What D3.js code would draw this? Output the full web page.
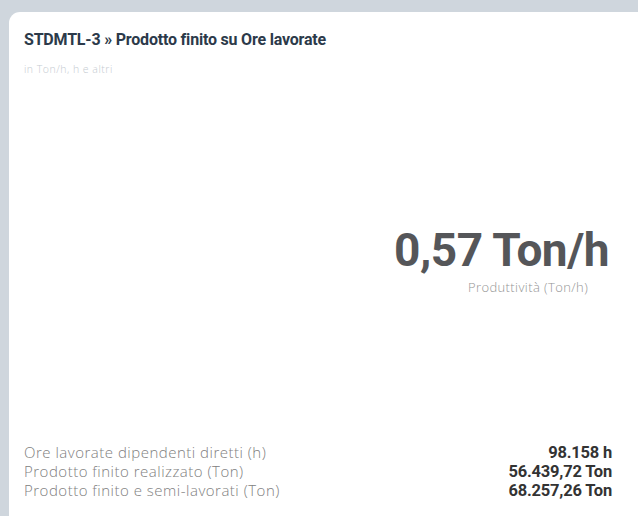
<!DOCTYPE html>
<html>
<head>
<meta charset="utf-8">
<script src="https://cdn.jsdelivr.net/npm/d3@7"></script>
<style>
  html, body { margin: 0; padding: 0; background: #cfd6dd; }
  svg { display: block; }
</style>
</head>
<body>
<svg id="chart" width="638" height="516"></svg>
<script>
const titleText = 'STDMTL-3 » Prodotto finito su Ore lavorate';
const subtitleText = 'in Ton/h, h e altri';
const kpiValue = '0,57 Ton/h';
const kpiLabel = 'Produttività (Ton/h)';
const rowLabels = [
  'Ore lavorate dipendenti diretti (h)',
  'Prodotto finito realizzato (Ton)',
  'Prodotto finito e semi-lavorati (Ton)'
];
const rowValues = ['98.158 h', '56.439,72 Ton', '68.257,26 Ton'];

const boldFont = 'Roboto, "Noto Sans", sans-serif';
const lightFont = '"Open Sans", "Noto Sans", sans-serif';

const svg = d3.select('#chart');
const width = +svg.attr('width');
const height = +svg.attr('height');

const card = { left: 9, top: 12, r: 11 };

// card background
svg.append('rect')
  .attr('x', card.left)
  .attr('y', card.top)
  .attr('width', width - card.left + 20)
  .attr('height', height - card.top + 20)
  .attr('rx', card.r)
  .attr('fill', '#ffffff');

const g = svg.append('g');

g.append('text')
  .attr('x', 24)
  .attr('y', 45)
  .attr('font-family', boldFont)
  .attr('font-weight', 700)
  .attr('font-size', 16)
  .attr('letter-spacing', -0.2)
  .attr('fill', '#2c3a4a')
  .text(titleText);

g.append('text')
  .attr('x', 24)
  .attr('y', 73)
  .attr('font-family', lightFont)
  .attr('font-weight', 300)
  .attr('font-size', 10.5)
  .attr('letter-spacing', 0.5)
  .attr('fill', '#c5cbd1')
  .text(subtitleText);

// big KPI
g.append('text')
  .attr('x', 609)
  .attr('y', 266)
  .attr('text-anchor', 'end')
  .attr('font-family', boldFont)
  .attr('font-weight', 700)
  .attr('font-size', 46)
  .attr('letter-spacing', -0.5)
  .attr('fill', '#555659')
  .text(kpiValue);

g.append('text')
  .attr('x', 528)
  .attr('y', 292)
  .attr('text-anchor', 'middle')
  .attr('font-family', lightFont)
  .attr('font-weight', 300)
  .attr('font-size', 13)
  .attr('letter-spacing', 0.4)
  .attr('fill', '#959595')
  .text(kpiLabel);

// rows
const yRow = d3.scalePoint()
  .domain(rowLabels)
  .range([458, 496]);

const rows = g.selectAll('.row').data(rowLabels.map((l, i) => ({ label: l, value: rowValues[i] })))
  .enter().append('g')
    .attr('class', 'row')
    .attr('transform', d => `translate(0, ${yRow(d.label)})`);

rows.append('text')
  .attr('x', 24)
  .attr('font-family', lightFont)
  .attr('font-weight', 300)
  .attr('font-size', 15)
  .attr('letter-spacing', 0.5)
  .attr('fill', '#808080')
  .text(d => d.label);

rows.append('text')
  .attr('x', 612)
  .attr('text-anchor', 'end')
  .attr('font-family', boldFont)
  .attr('font-weight', 700)
  .attr('font-size', 16.5)
  .attr('letter-spacing', -0.2)
  .attr('fill', '#333333')
  .text(d => d.value);
</script>
</body>
</html>
